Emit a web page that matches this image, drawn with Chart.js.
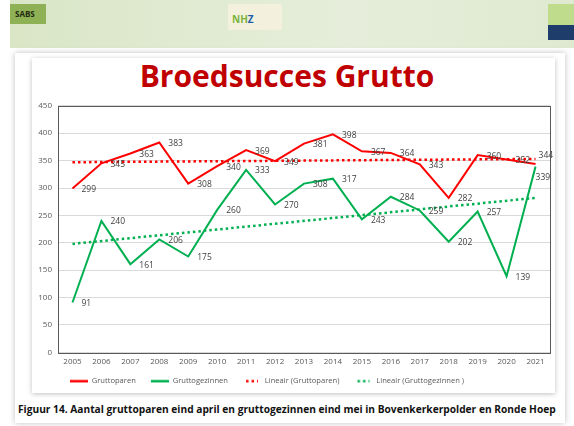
<!DOCTYPE html>
<html>
<head>
<meta charset="utf-8">
<script src="https://cdn.jsdelivr.net/npm/chart.js@4"></script>
<style>
  body { margin: 0; width: 574px; height: 426px; background: #fff; position: relative; overflow: hidden; font-family: "Open Sans", sans-serif; }
  #band { position: absolute; left: 10px; top: 0; width: 564px; height: 48px; background: linear-gradient(to right, #d9e6c6, #e6eedb 60%, #dfe9d0); }
  #sabs { position: absolute; left: 10px; top: 4px; width: 36px; height: 20px; background: #8fb155; font: bold 8px "Open Sans", sans-serif; color: #1f2a10; line-height: 20px; padding-left: 5px; box-sizing: border-box; }
  #nhz { position: absolute; left: 228px; top: 4px; width: 54px; height: 26px; background: #f3f1de; font: bold 10px "Open Sans", sans-serif; color: #7bb33a; line-height: 30px; padding-left: 4px; box-sizing: border-box; }
  #nhz span { color: #1f5da8; }
  #logo { position: absolute; left: 548px; top: 4px; width: 26px; height: 36px; background: linear-gradient(to bottom, #bfdc8c 0 58%, #1f3d6b 58% 100%); }
  #card { position: absolute; left: 15px; top: 53px; width: 550px; height: 370px; background: #fff; box-shadow: 0 0 6px rgba(0,0,0,0.25); }
  #panel { position: absolute; left: 32px; top: 58px; width: 523px; height: 335px; background: #fff; box-shadow: 0 1px 5px rgba(0,0,0,0.25); }
  #title { position: absolute; left: 0; width: 574px; top: 55px; text-align: center; font: bold 30px "Open Sans", sans-serif; color: #c00000; }
  #wrap { position: absolute; left: -26px; top: 95px; width: 591px; height: 300px; }
  #caption { position: absolute; left: 18px; top: 402px; font: bold 10.2px "Open Sans", sans-serif; color: #111; white-space: nowrap; }
</style>
</head>
<body>
<div id="band"></div>
<div id="sabs">SABS</div>
<div id="nhz">NH<span>Z</span></div>
<div id="logo"></div>
<div id="card"></div>
<div id="panel"></div>
<div id="title">Broedsucces Grutto</div>
<div id="wrap"><canvas id="chart"></canvas></div>
<div id="caption">Figuur 14. Aantal gruttoparen eind april en gruttogezinnen eind mei in Bovenkerkerpolder en Ronde Hoep</div>
<script>
const years = ['2005','2006','2007','2008','2009','2010','2011','2012','2013','2014','2015','2016','2017','2018','2019','2020','2021'];
const gruttoparen = [299, 345, 363, 383, 308, 340, 369, 349, 381, 398, 367, 364, 343, 282, 360, 352, 344];
const gruttogezinnen = [91, 240, 161, 206, 175, 260, 333, 270, 308, 317, 243, 284, 259, 202, 257, 139, 339];
// trendline end points (2005, 2021)
const trendParen = [347, 353];
const trendGezinnen = [198, 282];

const RED = '#ff0000';
const GREEN = '#00b050';

// small canvases used as legend symbols (line or dotted line)
function legendIcon(color, dotted) {
    const c = document.createElement('canvas');
    c.width = 28; c.height = 4;
    const g = c.getContext('2d');
    g.strokeStyle = color;
    g.lineWidth = 2.5;
    g.beginPath();
    if (dotted) {
        g.setLineDash([2.5, 3]);
        g.moveTo(13, 2);
        g.lineTo(25, 2);
    } else {
        g.moveTo(10, 2);
        g.lineTo(28, 2);
    }
    g.stroke();
    return c;
}

// last points get their labels moved, like in the original
const labelShift = { '0-16': [3, -8], '1-16': [0, 11] };

const labelPlugin = {
    id: 'pointLabels',
    afterDatasetsDraw(chart) {
        const ctx = chart.ctx;
        ctx.save();
        ctx.font = '8.5px "Open Sans", sans-serif';
        ctx.fillStyle = '#404040';
        ctx.textAlign = 'left';
        ctx.textBaseline = 'middle';
        [0, 1].forEach(i => {
            const meta = chart.getDatasetMeta(i);
            meta.data.forEach((pt, j) => {
                const s = labelShift[i + '-' + j] || [9, 1];
                ctx.fillText(chart.data.datasets[i].data[j], pt.x + s[0], pt.y + s[1]);
            });
        });
        ctx.restore();
    }
};

const boxPlugin = {
    id: 'plotBox',
    afterDraw(chart) {
        const a = chart.chartArea;
        const ctx = chart.ctx;
        ctx.save();
        ctx.strokeStyle = '#595959';
        ctx.lineWidth = 1;
        ctx.strokeRect(Math.round(a.left) + 0.5, Math.round(a.top) + 0.5, Math.round(a.right - a.left), Math.round(a.bottom - a.top));
        ctx.restore();
    }
};

new Chart(document.getElementById('chart'), {
    type: 'line',
    data: {
        labels: years,
        datasets: [
            { label: 'Gruttoparen', data: gruttoparen, borderColor: RED, backgroundColor: RED, borderWidth: 2, pointRadius: 0, tension: 0, pointStyle: legendIcon(RED, false), order: 1 },
            { label: 'Gruttogezinnen', data: gruttogezinnen, borderColor: GREEN, backgroundColor: GREEN, borderWidth: 2, pointRadius: 0, tension: 0, pointStyle: legendIcon(GREEN, false), order: 2 },
            { label: 'Lineair (Gruttoparen)', data: [{ x: years[0], y: trendParen[0] }, { x: years[years.length - 1], y: trendParen[1] }], borderColor: RED, backgroundColor: RED, borderWidth: 2.5, borderDash: [2.5, 3], pointRadius: 0, pointStyle: legendIcon(RED, true), order: 0 },
            { label: 'Lineair (Gruttogezinnen )', data: [{ x: years[0], y: trendGezinnen[0] }, { x: years[years.length - 1], y: trendGezinnen[1] }], borderColor: GREEN, backgroundColor: GREEN, borderWidth: 2.5, borderDash: [2.5, 3], pointRadius: 0, pointStyle: legendIcon(GREEN, true), order: 0 }
        ]
    },
    options: {
        responsive: true,
        maintainAspectRatio: false,
        animation: false,
        layout: { padding: { top: 8, right: 15, left: 0, bottom: 0 } },
        scales: {
            x: {
                offset: true,
                grid: { display: false, drawTicks: false },
                border: { display: false },
                ticks: { color: '#595959', font: { size: 8, family: '"Open Sans", sans-serif' }, maxRotation: 0, autoSkip: false, padding: 5 },
                afterFit(s) { s.height = 20; }
            },
            y: {
                min: 0, max: 450,
                grid: { color: '#d9d9d9', drawTicks: false },
                border: { display: false },
                ticks: { stepSize: 50, color: '#595959', font: { size: 8, family: '"Open Sans", sans-serif' }, padding: 6 },
                afterFit(s) { s.width = 84; }
            }
        },
        plugins: {
            tooltip: { enabled: false },
            legend: {
                position: 'bottom',
                labels: {
                    usePointStyle: true,
                    pointStyleWidth: 28,
                    boxHeight: 8,
                    padding: 5,
                    color: '#595959',
                    font: { size: 7.6, family: '"Open Sans", sans-serif' },
                    sort: (a, b) => a.datasetIndex - b.datasetIndex
                }
            }
        }
    },
    plugins: [labelPlugin, boxPlugin]
});
</script>
</body>
</html>
